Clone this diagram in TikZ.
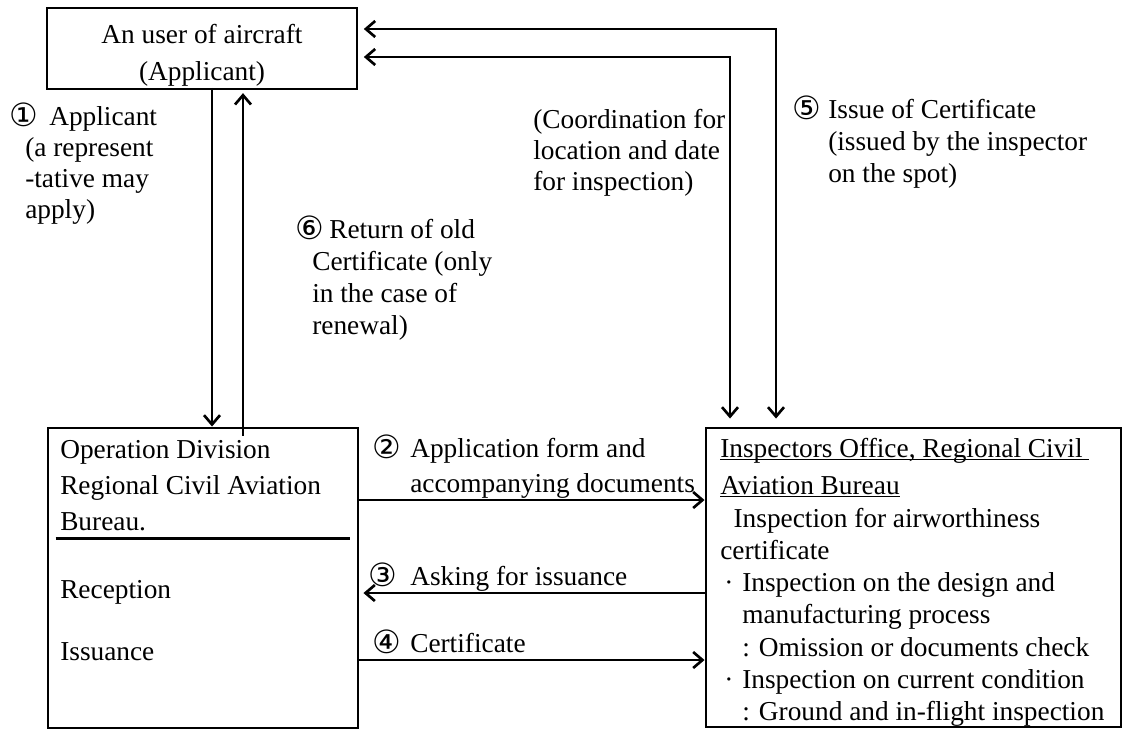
\documentclass[tikz,border=0pt]{standalone}
\usepackage{fontspec}
\setmainfont{Liberation Serif}
\newfontfamily\circfont{DejaVu Sans}
\usetikzlibrary{arrows.meta,calc,positioning}
% stacked lines, first baseline = node baseline
\newcommand\lns[2]{\vtop{\baselineskip=#1\relax\lineskiplimit=-20pt\halign{##\hfil\cr#2\crcr}}}
\newcommand\clns[2]{\vtop{\baselineskip=#1\relax\lineskiplimit=-20pt\halign{\hfil##\hfil\cr#2\crcr}}}
\newcommand\cnum[2][28.5pt]{\makebox[#1][l]{\raisebox{-1pt}{\circfont\fontsize{24}{24}\selectfont#2}}}
\newcommand\ulin[1]{\setbox0\hbox{#1}\rlap{\rule[-2.5pt]{\wd0}{0.9pt}}\box0}
\newcommand\bul{\makebox[16.5pt][l]{\kern3pt\textperiodcentered}}

\begin{document}
\begin{tikzpicture}[x=0.75pt,y=-0.75pt,
  box/.style={draw,line width=2.2pt,inner sep=0pt},
  lbl/.style={inner sep=0pt,anchor=base west,font=\fontsize{20.5}{24}\selectfont},
  link/.style={line width=2pt,{Straight Barb[length=7pt,width=12pt]}-{Straight Barb[length=7pt,width=12pt]}},
  to/.style={line width=2pt,-{Straight Barb[length=7pt,width=12pt]}}]
\useasboundingbox (0,0) rectangle (1123,729);

% boxes
\node[box,minimum width=232.5pt,minimum height=60.75pt] (user) at (202,48.5) {};
\node[box,minimum width=232.5pt,minimum height=225pt] (ops) at (203,578) {};
\node[box,minimum width=311.25pt,minimum height=224.25pt] (insp) at (913.5,577.5) {};
\draw[line width=2pt] ($(ops.north west)+(9,112)$) -- ($(ops.north east)+(-9,112)$);

% texts in the boxes
\node[lbl,anchor=base] (usertxt) at (202,43) {\clns{27.75pt}{An user of aircraft\cr (Applicant)}};
\node[lbl] (opstxt) at (60,458) {\lns{27pt}{Operation Division\cr Regional Civil Aviation\cr Bureau.}};
\node[lbl] (recep) at (60,598) {Reception};
\node[lbl] (issu) at (60,660) {Issuance};
\node[lbl] (insphead) at (720,457) {\lns{27.75pt}{\ulin{Inspectors Office, Regional Civil\ }\cr \ulin{Aviation Bureau}}};
\node[lbl] (inspbody) at (720,527) {\lns{24.2pt}{\kern10pt Inspection for airworthiness\cr
  certificate\cr
  \bul Inspection on the design and\cr
  \kern16.5pt manufacturing process\cr
  \kern16.5pt: Omission or documents check\cr
  \bul Inspection on current condition\cr
  \kern16.5pt: Ground and in-flight inspection}};

% connectors
\coordinate (dn) at (212,0);
\coordinate (up) at (243,0);
\coordinate (crd) at (730,57);
\coordinate (iss) at (776,29);
\coordinate (h2) at (0,500);
\coordinate (h3) at (0,593);
\coordinate (h4) at (0,660);
\draw[to] ([yshift=2pt]user.south -| dn) -- (ops.north -| dn);
\draw[to] ([yshift=-7pt]ops.north -| up) -- ([yshift=-2pt]user.south -| up);
\draw[link] ([xshift=4pt]user.east |- crd) -- (crd) -- ([yshift=6pt]insp.north -| crd);
\draw[link] ([xshift=4pt]user.east |- iss) -- (iss) -- ([yshift=6pt]insp.north -| iss);
\draw[to] (ops.east |- h2) -- (insp.west |- h2);
\draw[to] (insp.west |- h3) -- ([xshift=3pt]ops.east |- h3);
\draw[to] (ops.east |- h4) -- (insp.west |- h4);

% labels
\node[lbl] (l1) at (9,125) {\lns{23.25pt}{\cnum[30pt]{①}Applicant\cr \kern12pt(a represent\cr \kern12pt-tative may\cr \kern12pt apply)}};
\node[lbl] (l6) at (295,238) {\lns{24pt}{\cnum[25.5pt]{⑥}Return of old\cr \kern12.75pt Certificate (only\cr \kern12.75pt in the case of\cr \kern12.75pt renewal)}};
\node[lbl] (lcrd) at (533,128) {\lns{23.25pt}{(Coordination for\cr location and date\cr for inspection)}};
\node[lbl] (l5) at (792,118) {\lns{24pt}{\cnum[27pt]{⑤}Issue of Certificate\cr \kern27pt(issued by the inspector\cr \kern27pt on the spot)}};
\node[lbl] (l2) at (372,457) {\lns{26.25pt}{\cnum{②}Application form and\cr \kern28.5pt accompanying documents}};
\node[lbl] (l3) at (368,585) {\cnum[31.5pt]{③}Asking for issuance};
\node[lbl] (l4) at (372,652) {\cnum{④}Certificate};
\end{tikzpicture}
\end{document}
